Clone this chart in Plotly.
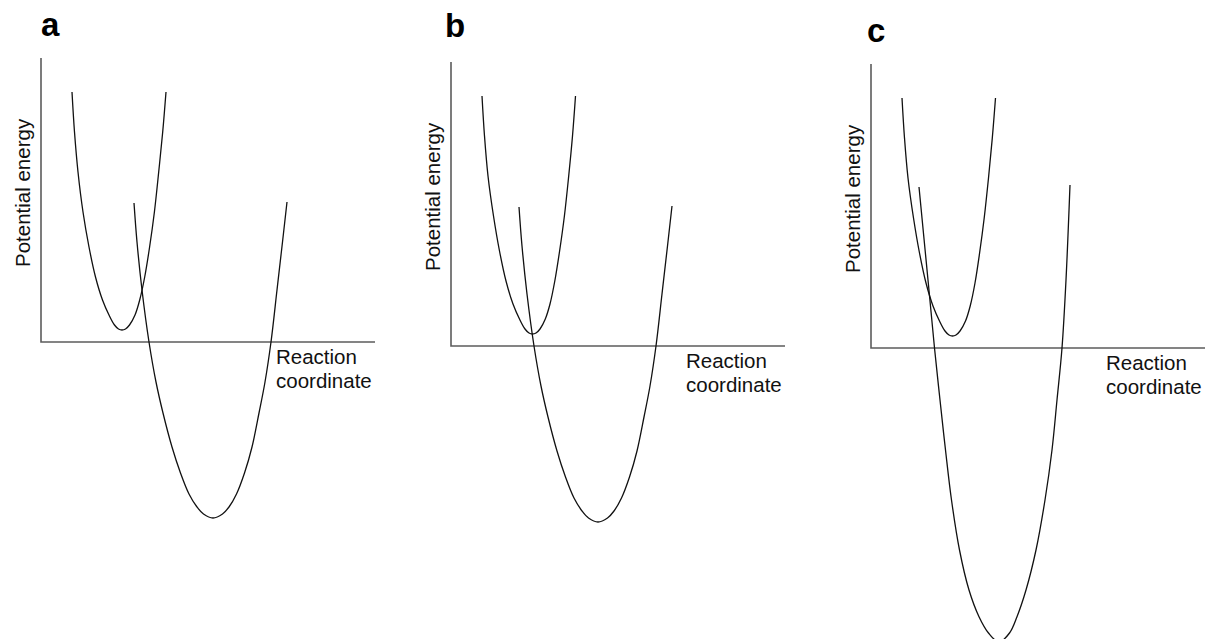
import plotly.graph_objects as go

# ---- data (panel units: x = reaction coordinate, y = potential energy; 0 at the axes) ----
PANELS = ["a", "b", "c"]

# small (upper) well
small_a_x = [31, 33.5, 37, 42, 48, 54.5, 61.5, 68, 73.5, 77.5, 81, 84.5, 88.5, 94, 98.7, 103.7, 108.6, 113.4, 117.7, 121.7, 125]
small_a_y = [250, 210, 170, 130, 95, 65, 42, 27, 17, 13, 12, 13, 17, 27, 42, 65, 95, 130, 170, 210, 250]
small_b_x = [31, 33.5, 37, 42.5, 48.5, 55, 62, 68.5, 74, 78, 81.5, 85, 89, 94.3, 99, 103.8, 108.6, 113.4, 117.7, 121.5, 124.5]
small_b_y = small_a_y
small_c_x = [31, 33.5, 37, 42.5, 48.5, 55, 62, 68.5, 74, 78, 81.5, 85, 89, 94.5, 99.2, 104, 108.6, 113.2, 117.5, 121.3, 124.5]
small_c_y = small_a_y

# large (lower) well
large_a_x = [93, 96, 101, 108, 115, 122, 131, 139.5, 148, 156, 162.5, 172, 181.5, 188, 195.5, 203.5, 211, 218, 224, 230, 236, 241.5, 246]
large_a_y = [139, 100, 52, 0, -40, -71, -105, -131, -152, -165, -172, -176, -172, -165, -152, -131, -105, -71, -40, 0, 52, 100, 140]
large_b_x = [68, 71, 76, 83, 90, 97, 106, 114.5, 123, 131, 137.5, 147, 156.5, 163, 170.5, 178.5, 186, 193, 199, 205, 211, 216.5, 221]
large_b_y = [139, 100, 52, 0, -40, -71, -105, -131, -152, -165, -172, -176, -172, -165, -152, -131, -105, -71, -40, 0, 52, 100, 140]
large_c_x = [48, 57, 63.5, 69, 74.5, 80.5, 88.5, 98, 108, 117.5, 128, 138.5, 146, 155, 165, 174, 181, 186, 191, 195, 199]
large_c_y = [161, 68, 0, -52, -102, -152, -202, -242, -268.7, -285, -294, -285, -268.7, -242, -202, -152, -102, -52, 0, 68, 163]

# axis extents (same for all panels)
axis_x_len = [0, 334]
axis_y_len = [0, 284]

# ---- layout helpers (pixel placement of each panel) ----
W, H = 1205, 639
origins = {"a": (41, 342), "b": (451, 346), "c": (871, 348)}
domains_px = {"a": (0, 408), "b": (408, 818), "c": (818, 1205)}

smalls = {"a": (small_a_x, small_a_y), "b": (small_b_x, small_b_y), "c": (small_c_x, small_c_y)}
larges = {"a": (large_a_x, large_a_y), "b": (large_b_x, large_b_y), "c": (large_c_x, large_c_y)}

fig = go.Figure()
axis_color = "#5c5c5c"
curve_color = "#111111"
font_family = "Liberation Sans, Arial, Helvetica, sans-serif"

annotations = []
for i, p in enumerate(PANELS):
    suffix = "" if i == 0 else str(i + 1)
    xa, ya = "x" + suffix, "y" + suffix
    ox, oy = origins[p]
    L, R = domains_px[p]
    fig.layout["xaxis" + suffix] = dict(
        domain=[L / W, R / W], range=[L - ox, R - ox], visible=False,
        showgrid=False, zeroline=False, fixedrange=True, anchor=ya)
    fig.layout["yaxis" + suffix] = dict(
        domain=[0, 1], range=[oy - H, oy], visible=False,
        showgrid=False, zeroline=False, fixedrange=True, anchor=xa)

    # axes (L-shaped)
    fig.add_trace(go.Scatter(x=[0, 0, axis_x_len[1]], y=[axis_y_len[1], 0, 0],
                             mode="lines", line=dict(color=axis_color, width=1.6),
                             xaxis=xa, yaxis=ya, showlegend=False, hoverinfo="skip"))
    sx, sy = smalls[p]
    lx, ly = larges[p]
    for cx, cy in ((sx, sy), (lx, ly)):
        fig.add_trace(go.Scatter(x=cx, y=cy, mode="lines",
                                 line=dict(color=curve_color, width=1.3, shape="spline", smoothing=1.0),
                                 xaxis=xa, yaxis=ya, showlegend=False, hoverinfo="skip"))

    # panel letter
    letter_pos = {"a": (-2, 318), "b": (-8, 321), "c": (-6, 318)}[p]
    annotations.append(dict(text="<b>%s</b>" % p, x=letter_pos[0], y=letter_pos[1], xref=xa, yref=ya,
                            xanchor="left", yanchor="middle", showarrow=False,
                            font=dict(family=font_family, size=33, color="#000")))
    # y-axis title
    annotations.append(dict(text="Potential energy", x=-19, y=149, xref=xa, yref=ya,
                            xanchor="center", yanchor="middle", textangle=-90, showarrow=False,
                            font=dict(family=font_family, size=20.5, color="#111")))
    # x-axis title (two lines)
    annotations.append(dict(text="Reaction", x=235, y=-14, xref=xa, yref=ya,
                            xanchor="left", yanchor="middle", showarrow=False,
                            borderpad=0, borderwidth=0,
                            font=dict(family=font_family, size=20.5, color="#111")))
    annotations.append(dict(text="coordinate", x=235, y=-38, xref=xa, yref=ya,
                            xanchor="left", yanchor="middle", showarrow=False,
                            borderpad=0, borderwidth=0,
                            font=dict(family=font_family, size=20.5, color="#111")))

fig.update_layout(width=W, height=H, autosize=False,
                  margin=dict(l=0, r=0, t=0, b=0, pad=0),
                  paper_bgcolor="white", plot_bgcolor="rgba(0,0,0,0)",
                  annotations=annotations, showlegend=False)

fig.write_html("out.html", config={"displayModeBar": False},
               post_script="document.body.style.margin='0';document.body.style.overflow='hidden';")
